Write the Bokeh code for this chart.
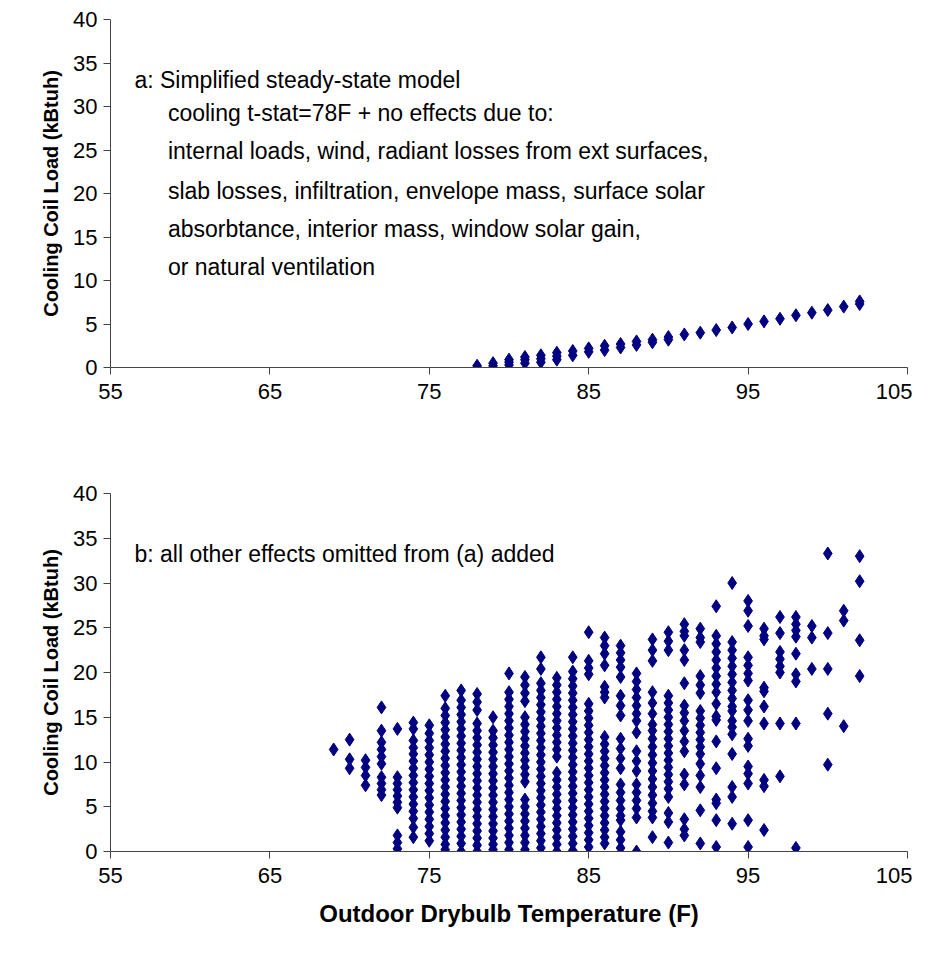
import numpy as np
from bokeh.plotting import figure
from bokeh.layouts import column
from bokeh.models import Label, FixedTicker
from bokeh.embed import file_html
from bokeh.resources import INLINE

# top panel (a): simplified steady-state model
temps_a = [78, 78, 79, 79, 80, 80, 80, 81, 81, 81, 82, 82, 82, 83, 83, 83, 84, 84,
           85, 85, 86, 86, 87, 87, 88, 88, 89, 89, 90, 90, 91, 92, 93, 94, 95, 96,
           97, 98, 99, 100, 101, 102, 102]
loads_a = [0.0, 0.2, 0.2, 0.5, 0.3, 0.6, 0.9, 0.5, 0.9, 1.2, 0.6, 1.0, 1.4, 0.9, 1.3, 1.7,
           1.4, 1.9, 1.8, 2.2, 2.0, 2.5, 2.3, 2.7, 2.6, 3.0, 2.9, 3.2, 3.2, 3.5, 3.8, 4.0,
           4.3, 4.6, 5.0, 5.3, 5.6, 6.0, 6.3, 6.6, 7.0, 7.3, 7.6]

# bottom panel (b): all other effects added, loads per outdoor temperature
loads_b = {
    69: [11.4],
    70: [12.5, 10.3, 9.3],
    71: [10.2, 9.4, 8.5, 7.4],
    72: [16.1, 13.5, 12.2, 11.4, 10.6, 9.8, 8.3, 7.6, 6.9, 6.3],
    73: [13.7, 8.3, 7.6, 6.9, 6.2, 5.5, 4.9, 1.8, 1.0, 0.3],
    74: [14.4, 13.7, 12.4, 11.6, 10.9, 10.1, 9.3, 8.5, 7.7, 6.9, 6.1, 5.3, 4.5, 3.7, 2.7, 1.6],
    75: [14.1, 13.2, 12.4, 11.6, 10.8, 10.0, 9.2, 8.4, 7.6, 6.8, 6.0, 5.2, 4.4, 3.6, 2.8, 2.0, 1.2],
    76: [17.4, 16.0, 15.2, 14.4, 13.6, 12.8, 12.0, 11.2, 10.4, 9.6, 8.8, 8.0, 7.2, 6.4, 5.6,
         4.8, 4.0, 3.2, 2.4, 1.6, 0.8, 0.2],
    77: [18.0, 16.9, 16.1, 15.3, 14.5, 13.7, 12.9, 12.1, 11.3, 10.5, 9.7, 8.9, 8.1, 7.3, 6.5,
         5.7, 4.9, 4.1, 3.3, 2.5, 1.7, 0.9, 0.0],
    78: [17.6, 16.7, 15.8, 14.3, 13.5, 12.7, 11.9, 11.1, 10.3, 9.5, 8.7, 7.9, 7.1, 6.3, 5.5,
         4.7, 3.9, 3.1, 2.3, 1.5, 0.7, 0.0],
    79: [15.0, 13.5, 12.7, 11.9, 11.1, 10.3, 9.5, 8.7, 7.9, 7.1, 6.3, 5.5, 4.7, 3.9, 3.1,
         2.3, 1.5, 0.8, 0.2],
    80: [19.9, 17.8, 17.0, 16.2, 15.4, 14.6, 13.8, 13.0, 12.2, 11.4, 10.6, 9.8, 9.0, 8.2,
         7.4, 6.6, 5.8, 5.0, 4.2, 3.4, 2.6, 1.8, 1.0, 0.2],
    81: [19.5, 18.6, 17.7, 16.8, 15.0, 14.2, 13.4, 12.6, 11.8, 11.0, 10.2, 9.4, 8.6, 7.8,
         5.8, 5.0, 4.2, 3.4, 2.6, 1.8, 1.0, 0.2],
    82: [21.7, 20.4, 18.8, 18.0, 17.2, 16.4, 15.6, 14.8, 14.0, 13.2, 12.4, 11.6, 10.8, 10.0,
         9.2, 8.4, 7.6, 6.8, 6.0, 5.2, 4.4, 3.6, 2.8, 2.0, 1.2, 0.4],
    83: [19.4, 18.6, 17.8, 17.0, 16.2, 15.4, 14.6, 13.8, 13.0, 12.2, 11.4, 10.6, 8.8, 8.0,
         7.2, 6.4, 5.6, 4.8, 4.0, 3.2, 2.4, 1.6, 0.8, 0.0],
    84: [21.7, 20.1, 19.3, 18.5, 17.7, 16.9, 16.1, 15.3, 14.5, 13.7, 12.9, 12.1, 11.3, 10.5,
         9.7, 8.9, 8.1, 7.3, 6.5, 5.7, 4.9, 4.1, 3.3, 2.5, 1.7, 0.9, 0.1],
    85: [24.5, 21.3, 20.5, 19.8, 16.5, 15.7, 14.9, 14.1, 13.3, 12.5, 11.7, 10.9, 10.1, 9.3,
         8.5, 7.7, 6.9, 6.1, 5.3, 4.5, 3.7, 2.9, 2.1, 1.3, 0.5],
    86: [23.9, 23.0, 22.1, 20.8, 18.4, 17.8, 17.2, 12.8, 12.0, 11.2, 10.4, 9.6, 8.8, 8.0,
         7.2, 6.4, 5.6, 4.8, 4.0, 3.2, 2.4, 1.6, 0.9],
    87: [23.0, 22.2, 21.4, 20.6, 19.5, 17.4, 16.3, 15.2, 12.6, 11.5, 10.4, 9.3, 7.5, 6.6,
         5.7, 4.8, 4.0, 3.5, 2.2, 1.3, 0.4],
    88: [19.9, 19.0, 18.1, 17.2, 16.3, 15.4, 14.6, 13.3, 11.2, 10.1, 9.0, 7.5, 6.6, 5.7,
         4.8, 3.8, 0.0],
    89: [23.7, 22.5, 21.3, 17.8, 16.6, 15.4, 14.2, 13.5, 12.6, 11.7, 10.8, 9.9, 9.0, 8.1,
         7.2, 6.3, 5.4, 4.5, 3.8, 1.6],
    90: [24.5, 23.5, 22.5, 17.4, 16.6, 15.8, 15.0, 14.2, 13.4, 12.6, 11.8, 11.0, 10.2, 9.4,
         8.6, 7.8, 7.0, 6.1, 4.3, 3.3, 1.0],
    91: [25.4, 24.6, 24.1, 22.5, 21.4, 18.8, 16.3, 15.5, 14.6, 13.5, 12.3, 11.2, 8.6, 7.5,
         3.6, 2.5, 1.8],
    92: [24.9, 23.9, 23.4, 19.6, 18.6, 17.7, 15.7, 14.9, 14.1, 13.3, 12.5, 11.7, 10.9, 9.8,
         8.5, 7.2, 4.6, 0.9],
    93: [27.4, 24.1, 23.2, 22.3, 21.4, 20.5, 19.6, 18.7, 17.8, 16.5, 15.1, 14.7, 12.3, 9.3,
         5.8, 5.4, 3.5, 0.5],
    94: [30.0, 23.4, 22.5, 21.6, 20.7, 19.8, 18.9, 18.0, 17.1, 16.2, 15.7, 14.6, 13.9, 13.1,
         10.9, 7.2, 6.1, 3.1],
    95: [28.0, 26.9, 25.2, 21.7, 20.8, 19.9, 19.1, 16.9, 15.8, 14.6, 12.6, 11.8, 9.5, 8.7,
         7.6, 3.5, 0.5],
    96: [24.9, 24.1, 23.7, 18.3, 17.9, 16.2, 14.3, 8.0, 7.3, 2.4],
    97: [26.2, 24.4, 22.3, 21.5, 20.7, 20.0, 14.3, 8.4],
    98: [26.2, 25.4, 24.7, 24.0, 22.1, 19.8, 19.0, 14.3, 0.4],
    99: [25.2, 23.9, 20.4],
    100: [33.3, 24.4, 20.4, 15.4, 9.7],
    101: [26.9, 25.8, 14.0],
    102: [33.0, 30.2, 23.6, 19.6],
}

temps_b = [t for t in loads_b for _ in loads_b[t]]
vals_b = [v for t in loads_b for v in loads_b[t]]

note_a = ["a: Simplified steady-state model",
          "cooling t-stat=78F + no effects due to:",
          "internal loads, wind, radiant losses from ext surfaces,",
          "slab losses, infiltration, envelope mass, surface solar",
          "absorbtance, interior mass, window solar gain,",
          "or natural ventilation"]
note_b = "b: all other effects omitted from (a) added"

FONT = "Liberation Sans"
NAVY = "#000080"


def make_fig(height, top, bottom, xlabel=None):
    f = figure(width=914, height=height, x_range=(55, 105), y_range=(0, 40),
               output_backend="svg", toolbar_location=None,
               min_border_left=110, min_border_right=5,
               min_border_top=top, min_border_bottom=bottom)
    f.frame_width = 797
    f.outline_line_color = None
    f.grid.visible = False
    f.xaxis.ticker = FixedTicker(ticks=[55, 65, 75, 85, 95, 105])
    f.yaxis.ticker = FixedTicker(ticks=list(range(0, 41, 5)))
    for ax in (f.xaxis[0], f.yaxis[0]):
        ax.axis_line_color = "#444444"
        ax.major_tick_line_color = "#444444"
        ax.major_tick_out = 7
        ax.major_tick_in = 0
        ax.minor_tick_line_color = None
        ax.major_label_text_font = FONT
        ax.major_label_text_font_size = "22px"
        ax.major_label_text_color = "black"
    f.xaxis.major_label_standoff = 9
    f.yaxis.major_label_standoff = 6
    f.yaxis.axis_label = "Cooling Coil Load (kBtuh)"
    f.yaxis.axis_label_text_font = FONT
    f.yaxis.axis_label_text_font_style = "bold"
    f.yaxis.axis_label_text_font_size = "20px"
    f.yaxis.axis_label_text_color = "black"
    f.yaxis.axis_label_standoff = 8
    if xlabel:
        f.xaxis.axis_label = xlabel
        f.xaxis.axis_label_text_font = FONT
        f.xaxis.axis_label_text_font_style = "bold"
        f.xaxis.axis_label_text_font_size = "24px"
        f.xaxis.axis_label_text_color = "black"
        f.xaxis.axis_label_standoff = 14
    return f


p1 = make_fig(432, 19, 65)
p1.frame_height = 348
p1.scatter(temps_a, loads_a, marker="diamond", size=13, color=NAVY)
ys = [33.1, 29.3, 24.9, 20.3, 15.9, 11.6]
for i, line in enumerate(note_a):
    p1.add_layout(Label(x=56.5 if i == 0 else 58.6, y=ys[i], text=line,
                        text_font=FONT, text_font_size="23px",
                        text_baseline="middle", text_color="black"))

p2 = make_fig(512, 61, 93, "Outdoor Drybulb Temperature (F)")
p2.frame_height = 358
p2.scatter(temps_b, vals_b, marker="diamond", size=13, color=NAVY)
p2.add_layout(Label(x=56.5, y=33.2, text=note_b, text_font=FONT, text_font_size="23px",
                    text_baseline="middle", text_color="black"))

layout = column(p1, p2, spacing=0)
open("out.html", "w").write(file_html(layout, INLINE))
